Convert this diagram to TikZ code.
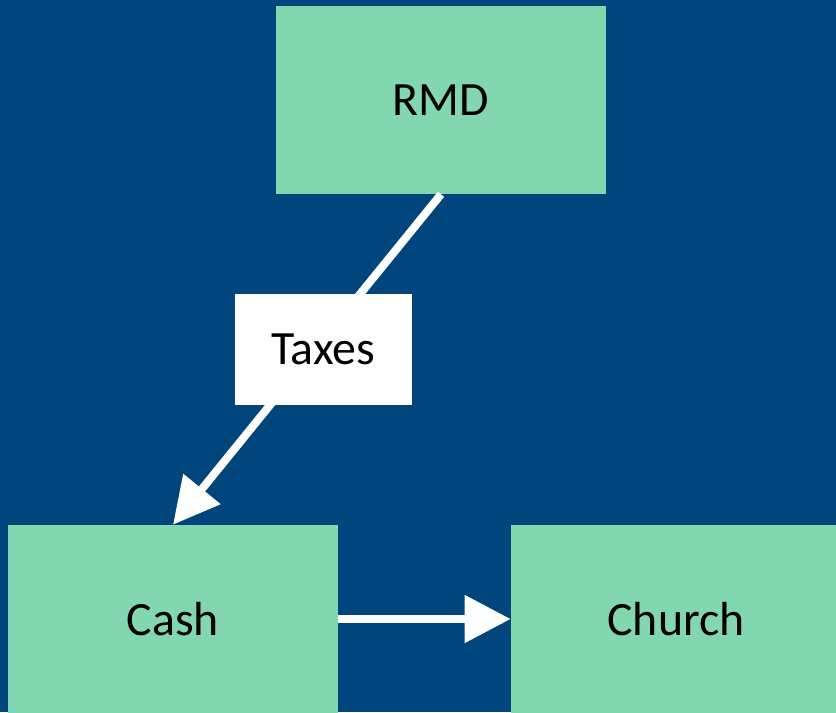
\documentclass[tikz,border=0pt]{standalone}
\usepackage{fontspec}
\setmainfont{Carlito}
\usepackage{tikz}
\usetikzlibrary{arrows.meta, positioning}
\definecolor{slideblue}{RGB}{0,69,124}
\definecolor{mintgreen}{RGB}{130,214,176}

\begin{document}
\begin{tikzpicture}[
  x=0.025cm, y=-0.025cm,
  flowbox/.style = {rectangle, fill=mintgreen, draw=none, minimum width=8.25cm,
                    minimum height=4.7cm, align=center, inner sep=0pt,
                    font=\fontsize{34}{40}\selectfont, text=black},
  taxbox/.style  = {rectangle, fill=white, draw=none, minimum width=4.425cm,
                    minimum height=2.775cm, align=center, inner sep=0pt,
                    font=\fontsize{34}{40}\selectfont, text=black},
  arr/.style     = {-{Triangle[length=1.15cm, width=1.15cm]}, line width=0.2cm, color=white},
]

%% Background
\fill[slideblue] (0,0) rectangle (836,712);
\useasboundingbox (0,0) rectangle (836,712);
\clip (0,0) rectangle (836,712);

%% Boxes
\node[flowbox] (rmd)    at (441,100) {RMD};
\node[flowbox] (cash)   at (173,619) {Cash};
\node[flowbox] (church) at (676,619) {Church};

%% Arrows
\draw[arr] (rmd.south) -- node[taxbox, pos=0.47, xshift=0.2cm] (taxes) {Taxes} (cash.north);
\draw[arr] (cash.east) -- (church.west);

\end{tikzpicture}
\end{document}
